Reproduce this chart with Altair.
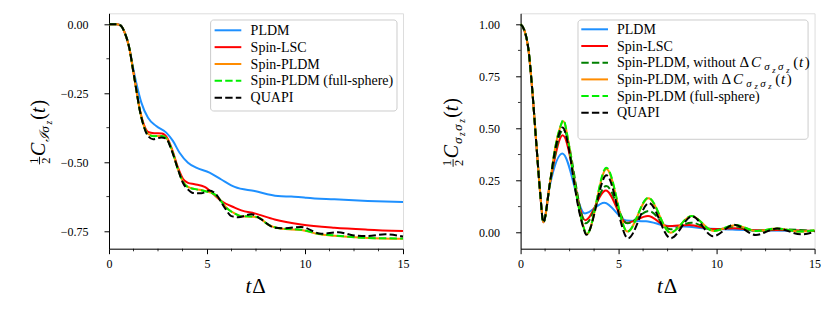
import altair as alt
import pandas as pd

FONT = "Liberation Serif"
PW, PH = 294, 235.4

# ---------------- data : left panel  (1/2 C_{I sigma_z}(t)) ----------------
L_PLDM_T = [0, 0.4, 0.6, 0.8, 1.05, 1.22, 1.39, 1.65, 1.99, 2.41, 2.92, 3.26, 3.6, 4.03, 4.45, 5.13, 5.73, 6.41, 7.43, 8.62, 9.3, 9.81, 10.07, 11.5, 13.2, 15]
L_PLDM_V = [0, 0, -0.004, -0.03, -0.09, -0.155, -0.212, -0.284, -0.339, -0.369, -0.393, -0.423, -0.466, -0.502, -0.520, -0.538, -0.563, -0.590, -0.605, -0.623, -0.625, -0.627, -0.629, -0.635, -0.641, -0.645]

L_LSC_T = [0, 0.4, 0.6, 0.8, 1.05, 1.22, 1.39, 1.56, 1.77, 1.99, 2.3, 2.7, 2.95, 3.2, 3.52, 3.77, 4.03, 4.37, 4.88, 5.39, 5.73, 6.41, 6.75, 7.43, 8.45, 9.8, 11.5, 13.2, 15]
L_LSC_V = [0, 0, -0.005, -0.03, -0.091, -0.163, -0.236, -0.306, -0.362, -0.390, -0.395, -0.396, -0.410, -0.450, -0.520, -0.560, -0.575, -0.580, -0.590, -0.620, -0.641, -0.665, -0.675, -0.686, -0.708, -0.726, -0.738, -0.745, -0.750]

L_SPIN_T = [0, 0.4, 0.6, 0.8, 1.05, 1.22, 1.39, 1.56, 1.77, 1.99, 2.3, 2.7, 2.95, 3.2, 3.52, 3.77, 4.03, 4.4, 4.8, 5.39, 6.07, 6.41, 6.75, 7.26, 7.6, 8.11, 8.79, 9.8, 10.67, 11.5, 13.2, 15]
L_SPIN_V = [0, 0, -0.005, -0.03, -0.091, -0.163, -0.236, -0.308, -0.367, -0.398, -0.405, -0.405, -0.415, -0.454, -0.526, -0.570, -0.590, -0.598, -0.603, -0.617, -0.670, -0.686, -0.696, -0.698, -0.700, -0.727, -0.742, -0.746, -0.761, -0.767, -0.775, -0.778]

L_FULL_T = [0, 0.4, 0.6, 0.8, 1.05, 1.22, 1.39, 1.56, 1.77, 1.99, 2.3, 2.7, 2.95, 3.2, 3.52, 3.77, 4.03, 4.4, 4.8, 5.39, 6.07, 6.41, 6.75, 7.26, 7.6, 8.11, 8.79, 9.8, 10.67, 11.5, 13.2, 15]
L_FULL_V = [0, 0, -0.005, -0.03, -0.091, -0.163, -0.236, -0.308, -0.368, -0.400, -0.406, -0.405, -0.416, -0.455, -0.527, -0.571, -0.591, -0.598, -0.604, -0.617, -0.671, -0.686, -0.696, -0.697, -0.700, -0.726, -0.741, -0.745, -0.760, -0.766, -0.775, -0.777]

L_QUAPI_T = [0, 0.4, 0.6, 0.8, 1.05, 1.22, 1.39, 1.56, 1.77, 1.99, 2.25, 2.67, 2.92, 3.18, 3.52, 3.77, 4.03, 4.28, 4.7, 5.1, 5.4, 5.9, 6.24, 6.58, 7.26, 7.77, 8.45, 8.96, 9.8, 10.83, 11.68, 12.5, 13.2, 14.1, 15]
L_QUAPI_V = [0, 0, -0.005, -0.03, -0.091, -0.163, -0.236, -0.308, -0.369, -0.405, -0.417, -0.411, -0.415, -0.454, -0.526, -0.575, -0.599, -0.612, -0.613, -0.603, -0.612, -0.665, -0.696, -0.700, -0.689, -0.708, -0.738, -0.740, -0.735, -0.760, -0.754, -0.766, -0.768, -0.762, -0.770]

# ---------------- data : right panel  (1/2 C_{sigma_z sigma_z}(t)) ----------------
R_PLDM_T = [0, 0.2, 0.4, 0.6, 0.8, 1.0, 1.16, 1.5, 2.13, 3.28, 4.27, 5.4, 6.4, 7.45, 8.6, 9.3, 10.8, 12.5, 15]
R_PLDM_V = [1.0, 0.97, 0.88, 0.68, 0.43, 0.19, 0.05, 0.23, 0.38, 0.092, 0.144, 0.058, 0.055, 0.033, 0.028, 0.021, 0.015, 0.010, 0.008]

R_LSC_T = [0, 0.2, 0.4, 0.6, 0.8, 1.0, 1.16, 1.5, 2.15, 3.3, 4.35, 5.4, 6.5, 7.5, 8.6, 9.8, 10.9, 12.0, 13.1, 15]
R_LSC_V = [1.0, 0.97, 0.88, 0.68, 0.43, 0.19, 0.05, 0.24, 0.468, 0.060, 0.202, 0.047, 0.080, 0.031, 0.037, 0.017, 0.021, 0.011, 0.013, 0.008]

R_NODC_T = [0, 0.2, 0.4, 0.6, 0.8, 1.0, 1.16, 1.5, 2.17, 3.33, 4.37, 5.45, 6.55, 7.65, 8.72, 9.85, 10.95, 12.05, 13.1, 15]
R_NODC_V = [1.0, 0.97, 0.88, 0.68, 0.43, 0.19, 0.05, 0.24, 0.495, 0.045, 0.224, 0.045, 0.104, 0.016, 0.048, 0.012, 0.030, 0.008, 0.016, 0.008]

R_DC_T = [0, 0.2, 0.4, 0.6, 0.8, 1.0, 1.16, 1.5, 1.75, 2.0, 2.18, 2.45, 2.7, 2.95, 3.2, 3.37, 4.38, 5.45, 6.52, 7.65, 8.72, 9.85, 10.95, 12.05, 13.1, 14.25, 15]
R_DC_V = [1.0, 0.97, 0.88, 0.68, 0.43, 0.19, 0.05, 0.24, 0.40, 0.50, 0.535, 0.43, 0.27, 0.13, 0.03, -0.008, 0.305, 0.005, 0.165, 0.0, 0.080, 0.008, 0.036, 0.008, 0.020, 0.005, 0.012]

R_FULL_T = [0, 0.2, 0.4, 0.6, 0.8, 1.0, 1.16, 1.5, 1.75, 2.0, 2.18, 2.45, 2.7, 2.95, 3.2, 3.37, 4.38, 5.45, 6.52, 7.65, 8.72, 9.85, 10.95, 12.05, 13.1, 14.25, 15]
R_FULL_V = [1.0, 0.97, 0.88, 0.68, 0.43, 0.19, 0.05, 0.24, 0.40, 0.50, 0.54, 0.43, 0.27, 0.13, 0.03, -0.008, 0.312, 0.005, 0.168, 0.0, 0.080, 0.008, 0.037, 0.008, 0.020, 0.005, 0.012]

R_QUAPI_T = [0, 0.2, 0.4, 0.6, 0.8, 1.0, 1.16, 1.5, 1.75, 2.15, 2.45, 2.7, 2.95, 3.2, 3.35, 4.38, 5.48, 6.55, 7.65, 8.75, 9.82, 10.9, 12.0, 13.1, 14.3, 15]
R_QUAPI_V = [1.0, 0.97, 0.88, 0.68, 0.43, 0.19, 0.05, 0.24, 0.39, 0.505, 0.41, 0.26, 0.12, 0.025, -0.01, 0.275, -0.027, 0.142, -0.027, 0.078, -0.017, 0.038, -0.011, 0.020, -0.008, 0.004]

# ---------------- ticks ----------------
X_MAJOR = [0, 5, 10, 15]
X_MINOR = [1.25, 2.5, 3.75, 6.25, 7.5, 8.75, 11.25, 12.5, 13.75]
L_Y_MAJOR = [0.0, -0.25, -0.5, -0.75]
L_Y_MINOR = [-0.125, -0.375, -0.625]
R_Y_MAJOR = [0.0, 0.25, 0.5, 0.75, 1.0]
R_Y_MINOR = [0.125, 0.375, 0.625, 0.875]
L_Y_DOMAIN = [-0.814, 0.0399]
R_Y_DOMAIN = [-0.077, 1.053]
X_DOMAIN = [0, 15]

BLUE, RED, ORANGE, LIME, DGREEN, BLACK = "#1E90FF", "#FF0000", "#FF8C00", "#00EE00", "#008000", "#000000"
DASH = [7.4, 3.2]

DUMMY = pd.DataFrame({"d": [0]})

REG = {' ': .25, '(': .333, ')': .333, ',': .25, '-': .333, '.': .25, 'Δ': .68,
       'A': .722, 'C': .667, 'D': .722, 'I': .333, 'L': .611, 'M': .889, 'P': .556, 'Q': .722,
       'S': .556, 'U': .722, 'a': .444, 'e': .444, 'f': .333, 'h': .5, 'i': .278, 'l': .278,
       'n': .5, 'o': .5, 'p': .5, 'r': .333, 's': .389, 't': .278, 'u': .5, 'w': .722, 'z': .444}
ITA = {'C': .7, 't': .3, 'z': .42, 'σ': .6, 'ℐ': .66}

LABEL_SIZE = 12


def tw(s, size, ital):
    tab = ITA if ital else REG
    return sum(tab.get(c, 0.5) for c in s) * size


def txt(text, size, ital, x, y, ang, align="left"):
    return alt.Chart(DUMMY).mark_text(
        text=text, font=FONT, fontSize=size, fontStyle="italic" if ital else "normal",
        align=align, baseline="alphabetic", angle=ang, color="black"
    ).encode(x=alt.value(x), y=alt.value(y))


def rich(pieces, x0, y0, rotate=False, anchor="start"):
    widths = []
    for p in pieces:
        if p[0] == "FRAC":
            widths.append(p[1] * 0.5 + 3.0)
        else:
            widths.append(tw(p[0], p[1], p[2]) + (p[4] if len(p) > 4 else 0))
    total = sum(widths)
    pos = -total / 2 if anchor == "middle" else 0.0
    out = []
    for p, w in zip(pieces, widths):
        if p[0] == "FRAC":
            fs = p[1]
            if rotate:
                yc = y0 - pos - w / 2
                out.append(txt("1", fs, False, x0 - 7.0, yc, 270, "center"))
                out.append(txt("2", fs, False, x0 + 5.0, yc, 270, "center"))
                out.append(alt.Chart(DUMMY).mark_rule(color="black", strokeWidth=0.9).encode(
                    x=alt.value(x0 - 5.0), y=alt.value(y0 - pos - 0.8), y2=alt.value(y0 - pos - w + 0.8)))
            pos += w
            continue
        text, size, ital, shift = p[:4]
        if rotate:
            out.append(txt(text, size, ital, x0 + shift, y0 - pos, 270))
        else:
            out.append(txt(text, size, ital, x0 + pos, y0 + shift, 0))
        pos += w
    return out


def xscale():
    return alt.Scale(domain=X_DOMAIN, nice=False, zero=False)


def yscale(dom):
    return alt.Scale(domain=dom, nice=False, zero=False)


def main_x_axis():
    return alt.Axis(values=X_MAJOR, format="d", orient="bottom", title=None, grid=False,
                    domainColor="black", tickColor="black", tickSize=5, tickWidth=1,
                    labelFont=FONT, labelFontSize=LABEL_SIZE, labelColor="black", labelPadding=5,
                    labelFlush=False)


def main_y_axis(values, extent):
    return alt.Axis(values=values, orient="left", title=None, grid=False,
                    domainColor="black", tickColor="black", tickSize=5, tickWidth=1,
                    labelFont=FONT, labelFontSize=LABEL_SIZE, labelColor="black", labelPadding=16,
                    minExtent=extent, maxExtent=extent,
                    labelExpr="replace(format(datum.value, '.2f'), '-', '\u2212')")


def series(t, v, color, dash, ydom, xaxis, yaxis):
    df = pd.DataFrame({"t": t, "v": v})
    props = dict(color=color, strokeWidth=2, interpolate="monotone")
    if dash:
        props["strokeDash"] = dash
    return alt.Chart(df).mark_line(**props).encode(
        x=alt.X("t:Q", scale=xscale(), axis=xaxis),
        y=alt.Y("v:Q", scale=yscale(ydom), axis=yaxis),
    )


def minor_ticks(xminor, yminor, ydom, xaxis, yaxis):
    xt = alt.Chart(pd.DataFrame({"t": xminor})).mark_rule(color="black", strokeWidth=0.8).encode(
        x=alt.X("t:Q", scale=xscale(), axis=xaxis), y=alt.value(PH), y2=alt.value(PH + 2.6))
    yt = alt.Chart(pd.DataFrame({"v": yminor})).mark_rule(color="black", strokeWidth=0.8).encode(
        y=alt.Y("v:Q", scale=yscale(ydom), axis=yaxis), x=alt.value(0), x2=alt.value(-2.6))
    return [xt, yt]


def legend(entries, box, row0, dy, sx0, sx1, tx):
    x1, y1, x2, y2 = box
    layers = [alt.Chart(DUMMY).mark_rect(fill="white", fillOpacity=0.85, stroke="#cccccc",
                                         strokeWidth=1, cornerRadius=3)
              .encode(x=alt.value(x1), x2=alt.value(x2), y=alt.value(y1), y2=alt.value(y2))]
    for i, (color, dash, pieces) in enumerate(entries):
        ry = row0 + dy * i
        props = dict(color=color, strokeWidth=2)
        if dash:
            props["strokeDash"] = dash
        layers.append(alt.Chart(DUMMY).mark_rule(**props)
                      .encode(x=alt.value(sx0), x2=alt.value(sx1), y=alt.value(ry)))
        layers += rich(pieces, tx, ry + 4.6)
    return layers


LS = 14  # legend font size


def lab(s):
    return [(s, LS, False, 0)]


def dc_label(prefix):
    return [(prefix, LS, False, 0), ("Δ", 15, False, 0, 1.2), ("C", 15, True, 0, 2.8),
            ("σ", 11, True, 3.2, 1.5), ("z", 8.5, True, 5.5, 2.2), ("σ", 11, True, 3.2, 1.5), ("z", 8.5, True, 5.5, 3.4),
            ("(", 15, False, 0, 0.8), ("t", 15, True, 0, 1.2), (")", 15, False, 0)]


# ---------------- left panel ----------------
LY = L_Y_DOMAIN
LXA, LYA = main_x_axis(), main_y_axis(L_Y_MAJOR, 99.7)
left_layers = [
    series(L_PLDM_T, L_PLDM_V, BLUE, None, LY, LXA, LYA),
    series(L_LSC_T, L_LSC_V, RED, None, LY, LXA, LYA),
    series(L_SPIN_T, L_SPIN_V, ORANGE, None, LY, LXA, LYA),
    series(L_FULL_T, L_FULL_V, LIME, DASH, LY, LXA, LYA),
    series(L_QUAPI_T, L_QUAPI_V, BLACK, DASH, LY, LXA, LYA),
]
left_layers += minor_ticks(X_MINOR, L_Y_MINOR, LY, LXA, LYA)
left_layers += legend(
    [(BLUE, None, lab("PLDM")), (RED, None, lab("Spin-LSC")), (ORANGE, None, lab("Spin-PLDM")),
     (LIME, DASH, lab("Spin-PLDM (full-sphere)")), (BLACK, DASH, lab("QUAPI"))],
    (101.6, 6.7, 288.0, 97.7), 17.0, 16.85, 105.6, 132.3, 141.6)
left_layers += rich([("FRAC", 12.5), ("C", 20, True, 0, 0.3), ("ℐ", 13.5, True, 4.2), ("σ", 13.5, True, 4.2, 0.0),
                     ("z", 9.5, True, 7.0, 1.0), ("(", 20, False, 0), ("t", 20, True, 0, 0.5), (")", 20, False, 0)],
                    -64.5, 119.2, rotate=True, anchor="middle")
left_layers += rich([("t", 21, True, 0, 0.5), ("Δ", 21, False, 0)], PW / 2, 280.0, anchor="middle")
left_layers.append(alt.Chart(DUMMY).mark_rule(strokeOpacity=0)
                   .encode(x=alt.value(-99.7), y=alt.value(100), y2=alt.value(110)))

left = alt.layer(*left_layers).properties(width=PW, height=PH)

# ---------------- right panel ----------------
RY = R_Y_DOMAIN
RXA, RYA = main_x_axis(), main_y_axis(R_Y_MAJOR, 60)
right_layers = [
    series(R_PLDM_T, R_PLDM_V, BLUE, None, RY, RXA, RYA),
    series(R_LSC_T, R_LSC_V, RED, None, RY, RXA, RYA),
    series(R_NODC_T, R_NODC_V, DGREEN, DASH, RY, RXA, RYA),
    series(R_DC_T, R_DC_V, ORANGE, None, RY, RXA, RYA),
    series(R_FULL_T, R_FULL_V, LIME, DASH, RY, RXA, RYA),
    series(R_QUAPI_T, R_QUAPI_V, BLACK, DASH, RY, RXA, RYA),
]
right_layers += minor_ticks(X_MINOR, R_Y_MINOR, RY, RXA, RYA)
right_layers += legend(
    [(BLUE, None, lab("PLDM")), (RED, None, lab("Spin-LSC")),
     (DGREEN, DASH, dc_label("Spin-PLDM, without ")),
     (ORANGE, None, dc_label("Spin-PLDM, with ")),
     (LIME, DASH, lab("Spin-PLDM (full-sphere)")), (BLACK, DASH, lab("QUAPI"))],
    (57.4, 6.7, 287.5, 126.0), 16.0, 16.7, 60.7, 87.4, 96.4)
right_layers += rich([("FRAC", 12.5), ("C", 20, True, 0, 0.3), ("σ", 13.5, True, 4.2, 0.0), ("z", 9.5, True, 7.0, 1.0),
                      ("σ", 13.5, True, 4.2, 0.0), ("z", 9.5, True, 7.0, 1.0),
                      ("(", 20, False, 0), ("t", 20, True, 0, 0.5), (")", 20, False, 0)],
                     -62.5, 119.5, rotate=True, anchor="middle")
right_layers += rich([("t", 21, True, 0, 0.5), ("Δ", 21, False, 0)], PW / 2, 280.0, anchor="middle")

right = alt.layer(*right_layers).properties(width=PW, height=PH)

chart = (
    alt.hconcat(left, right, spacing=117.6, bounds="flush")
    .properties(padding={"left": 0, "top": 4.3, "right": 0, "bottom": 0})
    .configure_view(stroke="black", strokeWidth=1)
    .configure_axis(labelFont=FONT, labelFontSize=LABEL_SIZE, labelColor="black",
                    domainColor="black", tickColor="black")
    .configure(font=FONT)
)

chart.save("out.html", embed_options={"renderer": "svg", "actions": False})
